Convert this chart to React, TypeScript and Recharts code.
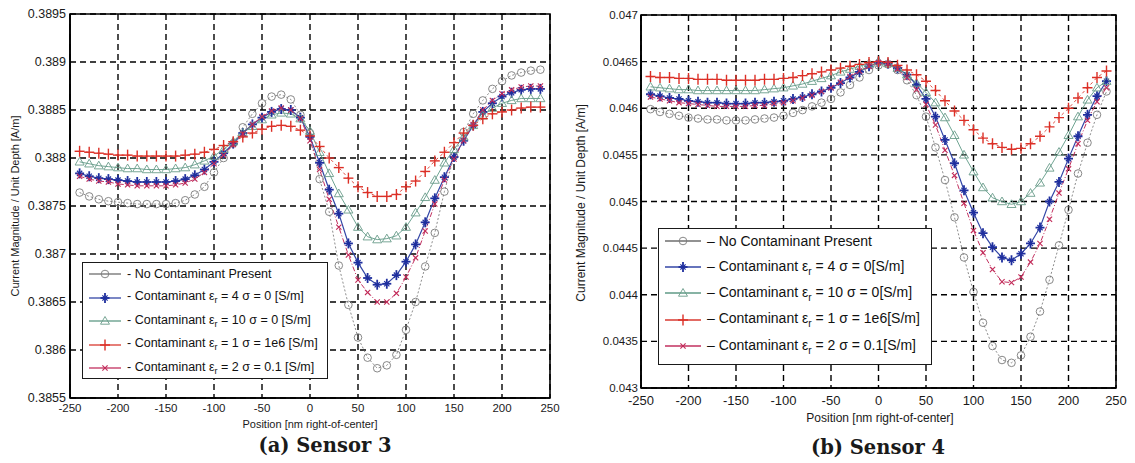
import React from 'react';
import { LineChart, Line, XAxis, YAxis, CartesianGrid, Legend, Label, ReferenceArea } from 'recharts';

// sample positions along the sensor, nm right-of-center
const POSITIONS = [
  -240, -230, -220, -210, -200, -190, -180, -170, -160, -150, -140, -130, -120, -110, -100, -90, -80,
  -70, -60, -50, -40, -30, -20, -10, 0, 10, 20, 30, 40, 50, 60, 70, 80, 90, 100, 110, 120, 130, 140,
  150, 160, 170, 180, 190, 200, 210, 220, 230, 240,
];

const X_TICKS = [-250, -200, -150, -100, -50, 0, 50, 100, 150, 200, 250];

// ---- Sensor 3 ----
const S3_Y_TICKS = [0.3855, 0.386, 0.3865, 0.387, 0.3875, 0.388, 0.3885, 0.389, 0.3895];

const S3_NONE = [
  0.38764, 0.3876, 0.38757, 0.38755, 0.38754, 0.38753, 0.38752, 0.38752, 0.38752, 0.38752, 0.38753,
  0.38756, 0.38762, 0.3877, 0.38785, 0.388, 0.38815, 0.38832, 0.38846, 0.38857, 0.38864, 0.38866,
  0.38861, 0.38845, 0.38826, 0.38778, 0.38744, 0.38688, 0.38647, 0.38613, 0.38592, 0.38581, 0.38584,
  0.38595, 0.38621, 0.3865, 0.38687, 0.38722, 0.38765, 0.38802, 0.38827, 0.38846, 0.3886, 0.38872,
  0.3888, 0.38886, 0.38889, 0.38891, 0.38892,
];
const S3_E4 = [
  0.38784, 0.38781, 0.38779, 0.38778, 0.38777, 0.38776, 0.38775, 0.38775, 0.38775, 0.38775, 0.38776,
  0.38778, 0.38782, 0.38788, 0.38796, 0.38805, 0.38815, 0.38826, 0.38835, 0.38842, 0.38848, 0.38851,
  0.3885, 0.38842, 0.38822, 0.38795, 0.38767, 0.38742, 0.38711, 0.38691, 0.38675, 0.38668, 0.38669,
  0.38678, 0.38692, 0.3871, 0.38733, 0.38758, 0.3878, 0.38801, 0.38818, 0.38834, 0.38848, 0.38857,
  0.38864, 0.38868, 0.38871, 0.38872, 0.38872,
];
const S3_E10 = [
  0.38796, 0.38794, 0.38792, 0.38791, 0.3879, 0.38789, 0.38789, 0.38788, 0.38788, 0.38788, 0.38789,
  0.3879, 0.38793, 0.38797, 0.38802, 0.38809, 0.38817, 0.38826, 0.38833, 0.3884, 0.38845, 0.38847,
  0.38846, 0.38841, 0.38828, 0.38806, 0.38784, 0.38763, 0.38746, 0.38728, 0.38718, 0.38715, 0.38716,
  0.38719, 0.38728, 0.38743, 0.38759, 0.38777, 0.38795, 0.38809, 0.38822, 0.38834, 0.38844, 0.38852,
  0.38857, 0.3886, 0.38862, 0.38862, 0.38862,
];
const S3_E1 = [
  0.38807, 0.38806, 0.38805, 0.38804, 0.38803, 0.38803, 0.38802, 0.38802, 0.38802, 0.38802, 0.38802,
  0.38803, 0.38804, 0.38806, 0.38809, 0.38813, 0.38817, 0.38822, 0.38826, 0.3883, 0.38833, 0.38834,
  0.38833, 0.38829, 0.38823, 0.38812, 0.388, 0.3879, 0.38779, 0.3877, 0.38764, 0.3876, 0.3876,
  0.38762, 0.3877, 0.38776, 0.38786, 0.38797, 0.38806, 0.38816, 0.38826, 0.38834, 0.38841, 0.38846,
  0.38848, 0.3885, 0.38852, 0.38853, 0.38853,
];
const S3_E2 = [
  0.38781, 0.38778, 0.38776, 0.38775, 0.38773, 0.38772, 0.38771, 0.38771, 0.38771, 0.38771, 0.38772,
  0.38774, 0.38778, 0.38785, 0.38794, 0.38803, 0.38814, 0.38825, 0.38835, 0.38843, 0.38849, 0.38852,
  0.3885, 0.38841, 0.38818, 0.38788, 0.38757, 0.38728, 0.38699, 0.38673, 0.3866, 0.3865, 0.3865,
  0.38659, 0.38676, 0.38696, 0.38724, 0.38752, 0.38777, 0.38799, 0.38818, 0.38835, 0.3885, 0.3886,
  0.38867, 0.38871, 0.38874, 0.38875, 0.38875,
];

// ---- Sensor 4 ----
const S4_Y_TICKS = [0.043, 0.0435, 0.044, 0.0445, 0.045, 0.0455, 0.046, 0.0465, 0.047];

const S4_NONE = [
  0.04599, 0.04596, 0.04594, 0.04592, 0.0459, 0.04589, 0.04588, 0.04588, 0.04587, 0.04587, 0.04587,
  0.04588, 0.04589, 0.0459, 0.04592, 0.04595, 0.04598, 0.04602, 0.04606, 0.0461, 0.04617, 0.04625,
  0.04633, 0.04641, 0.04646, 0.04647, 0.04641, 0.0463, 0.04614, 0.04591, 0.04558, 0.04523, 0.04483,
  0.0444, 0.04403, 0.0437, 0.04345, 0.0433, 0.04327, 0.04335, 0.04355, 0.04382, 0.04416, 0.04453,
  0.04491, 0.0453, 0.04563, 0.04593, 0.04618,
];
const S4_E4 = [
  0.04615, 0.04613, 0.04611, 0.0461, 0.04608, 0.04607, 0.04606, 0.04606, 0.04605, 0.04605, 0.04605,
  0.04606, 0.04606, 0.04607, 0.04608, 0.0461, 0.04612, 0.04615, 0.04618, 0.04622, 0.04627, 0.04633,
  0.04639, 0.04645, 0.04649, 0.04648, 0.04643, 0.04636, 0.04625, 0.0461, 0.04591, 0.04566, 0.04541,
  0.04512, 0.04488, 0.04466, 0.04451, 0.0444, 0.04437, 0.04444, 0.04455, 0.04472, 0.045, 0.04521,
  0.04546, 0.0457, 0.04593, 0.04613, 0.04629,
];
const S4_E10 = [
  0.04623, 0.04622, 0.04621, 0.0462, 0.0462, 0.04619, 0.04619, 0.04619, 0.04619, 0.04619, 0.04619,
  0.04619, 0.0462, 0.04621, 0.04622, 0.04624, 0.04626, 0.04629, 0.04632, 0.04635, 0.04639, 0.04642,
  0.04645, 0.04648, 0.0465, 0.04648, 0.04643, 0.04636, 0.04627, 0.04617, 0.04606, 0.0459, 0.04571,
  0.0455, 0.04532, 0.04515, 0.04504, 0.045, 0.04497, 0.045, 0.04509, 0.0452, 0.04536, 0.04553,
  0.04571, 0.04591, 0.04609, 0.04622, 0.04629,
];
const S4_E1 = [
  0.04634, 0.04633, 0.04633, 0.04632, 0.04632, 0.04631, 0.04631, 0.04631, 0.0463, 0.0463, 0.0463,
  0.0463, 0.04631, 0.04631, 0.04632, 0.04633, 0.04635, 0.04637, 0.04639, 0.04641, 0.04643, 0.04645,
  0.04647, 0.04649, 0.0465, 0.04649, 0.04646, 0.04641, 0.04636, 0.04629, 0.04619, 0.04608, 0.04597,
  0.04587, 0.04577, 0.04568, 0.04562, 0.04558, 0.04556, 0.04557, 0.04562, 0.0457, 0.0458, 0.0459,
  0.046, 0.04611, 0.04622, 0.04633, 0.0464,
];
const S4_E2 = [
  0.04612, 0.0461, 0.04608, 0.04606, 0.04605, 0.04604, 0.04603, 0.04602, 0.04602, 0.04602, 0.04602,
  0.04603, 0.04603, 0.04605, 0.04606, 0.04608, 0.04611, 0.04614, 0.04618, 0.04622, 0.04628, 0.04634,
  0.0464, 0.04645, 0.04649, 0.04648, 0.04642, 0.04633, 0.0462, 0.04604, 0.04582, 0.04555, 0.04528,
  0.04498, 0.04469, 0.04445, 0.04427, 0.04414, 0.04413, 0.04419, 0.04435, 0.04455, 0.04481, 0.04509,
  0.04535, 0.04562, 0.04587, 0.04607, 0.04622,
];

// legend wording: epsilon_r and sigma per contaminant case
const S3_LEGEND = [
  { eps: '', sigma: '' },
  { eps: '4', sigma: '0 [S/m]' },
  { eps: '10', sigma: '0 [S/m]' },
  { eps: '1', sigma: '1e6 [S/m]' },
  { eps: '2', sigma: '0.1 [S/m]' },
];
const S4_LEGEND = [
  { eps: '', sigma: '' },
  { eps: '4', sigma: '0[S/m]' },
  { eps: '10', sigma: '0[S/m]' },
  { eps: '1', sigma: '1e6[S/m]' },
  { eps: '2', sigma: '0.1[S/m]' },
];

type MarkerKind = 'circle' | 'star' | 'triangle' | 'plus' | 'cross';

const STYLES: { key: string; marker: MarkerKind; stroke: string; mark: string; width: number; dash?: string }[] = [
  { key: 'none', marker: 'circle', stroke: '#6e6e6e', mark: '#7a7a7a', width: 0.8, dash: '2 2' },
  { key: 'e4', marker: 'star', stroke: '#3346a6', mark: '#1f2f9e', width: 1.2 },
  { key: 'e10', marker: 'triangle', stroke: '#5f9a86', mark: '#6a9c8a', width: 0.9 },
  { key: 'e1', marker: 'plus', stroke: '#d93a30', mark: '#dc2f26', width: 0.9, dash: '3 3' },
  { key: 'e2', marker: 'cross', stroke: '#c2305f', mark: '#c22a58', width: 1, dash: '5 2 1 2' },
];

function Marker({ kind, cx, cy, color }: { kind: MarkerKind; cx: number; cy: number; color: string }) {
  if (cx == null || cy == null) return null;
  switch (kind) {
    case 'circle':
      return <circle cx={cx} cy={cy} r={3.8} fill="none" stroke={color} strokeWidth={0.9} />;
    case 'star':
      return (
        <g stroke={color} strokeWidth={1.8}>
          <line x1={cx - 4.5} y1={cy} x2={cx + 4.5} y2={cy} />
          <line x1={cx} y1={cy - 5} x2={cx} y2={cy + 5} />
          <line x1={cx - 2.6} y1={cy - 2.6} x2={cx + 2.6} y2={cy + 2.6} strokeWidth={1.2} />
          <line x1={cx - 2.6} y1={cy + 2.6} x2={cx + 2.6} y2={cy - 2.6} strokeWidth={1.2} />
        </g>
      );
    case 'triangle':
      return (
        <polygon
          points={`${cx},${cy - 4.5} ${cx - 4.5},${cy + 3.2} ${cx + 4.5},${cy + 3.2}`}
          fill="none"
          stroke={color}
          strokeWidth={0.9}
        />
      );
    case 'plus':
      return (
        <g stroke={color} strokeWidth={1.4}>
          <line x1={cx - 5} y1={cy} x2={cx + 5} y2={cy} />
          <line x1={cx} y1={cy - 5.5} x2={cx} y2={cy + 5.5} />
        </g>
      );
    case 'cross':
      return (
        <g stroke={color} strokeWidth={1.1}>
          <line x1={cx - 2.6} y1={cy - 2.6} x2={cx + 2.6} y2={cy + 2.6} />
          <line x1={cx - 2.6} y1={cy + 2.6} x2={cx + 2.6} y2={cy - 2.6} />
        </g>
      );
  }
}

function LegendBox({
  rows,
  dash,
  fontSize,
  rowHeight,
  firstRow,
  width,
  height,
  sampleW,
}: {
  rows: { eps: string; sigma: string }[];
  dash: string;
  fontSize: number;
  rowHeight: number;
  firstRow: number;
  width: number;
  height: number;
  sampleW: number;
}) {
  return (
    <div
      style={{
        position: 'relative',
        width,
        height,
        boxSizing: 'border-box',
        border: '1.6px solid #1a1a1a',
        background: '#fff',
        fontFamily: '"Liberation Sans", Arial, sans-serif',
        fontSize,
        color: '#111',
      }}
    >
      {rows.map((r, i) => {
        const s = STYLES[i];
        return (
          <div
            key={s.key}
            style={{
              position: 'absolute',
              left: 5,
              top: firstRow + i * rowHeight - 10,
              height: 20,
              display: 'flex',
              alignItems: 'center',
              whiteSpace: 'nowrap',
            }}
          >
            <svg width={sampleW} height={20} style={{ display: 'block' }}>
              <line x1={1} y1={10} x2={sampleW - 1} y2={10} stroke={s.stroke} strokeWidth={1.3} />
              <Marker kind={s.marker} cx={sampleW / 2} cy={10} color={s.mark} />
            </svg>
            <span style={{ marginLeft: 5 }}>
              {dash}{' '}
              {r.eps ? (
                <>
                  Contaminant ε<sub style={{ fontSize: '0.72em', verticalAlign: '-0.35em' }}>r</sub> = {r.eps} σ ={' '}
                  {r.sigma}
                </>
              ) : (
                'No Contaminant Present'
              )}
            </span>
          </div>
        );
      })}
    </div>
  );
}

type PanelProps = {
  left: number;
  width: number;
  margin: { top: number; right: number; left: number; bottom: number };
  yWidth: number;
  yDomain: [number, number];
  yTicks: number[];
  series: number[][];
  yTickSize: number;
  xTickSize: number;
  xTickMargin: number;
  yTickMargin: number;
  titleSize: number;
  yTitle: { x: number; y: number };
  xTitle: { x: number; y: number };
  caption: { text: string; x: number; y: number };
  legend: { left: number; top: number; width: number; height: number; rows: { eps: string; sigma: string }[]; dash: string; fontSize: number; rowHeight: number; firstRow: number; sampleW: number };
};

function SensorPanel(p: PanelProps) {
  const data = POSITIONS.map((x, i) => {
    const row: Record<string, number> = { x };
    STYLES.forEach((s, k) => {
      row[s.key] = p.series[k][i];
    });
    return row;
  });
  const font = '"Liberation Sans", Arial, sans-serif';
  return (
    <div style={{ position: 'absolute', left: p.left, top: 0 }}>
      <LineChart width={p.width} height={463} data={data} margin={p.margin}>
        <CartesianGrid stroke="#000" strokeWidth={1.4} strokeDasharray="6 4" />
        <XAxis
          dataKey="x"
          type="number"
          domain={[-250, 250]}
          ticks={X_TICKS}
          interval={0}
          height={30}
          tickLine={false}
          tickMargin={p.xTickMargin}
          axisLine={{ stroke: '#000', strokeWidth: 1.6 }}
          tick={{ fill: '#1a1a1a', fontSize: p.xTickSize, fontFamily: font }}
        >
          <Label
            content={() => (
              <g>
                <text x={p.xTitle.x} y={p.xTitle.y} textAnchor="middle" dominantBaseline="central" fontSize={p.titleSize} fontFamily={font} fill="#1a1a1a">
                  Position [nm right-of-center]
                </text>
                <text
                  x={p.caption.x}
                  y={p.caption.y}
                  textAnchor="middle"
                  dominantBaseline="central"
                  fontSize={19.5}
                  fontWeight="bold"
                  fontFamily='"DejaVu Serif", serif'
                  fill="#1a1a1a"
                >
                  {p.caption.text}
                </text>
              </g>
            )}
          />
        </XAxis>
        <YAxis
          type="number"
          domain={p.yDomain}
          ticks={p.yTicks}
          interval={0}
          allowDataOverflow
          width={p.yWidth}
          tickLine={false}
          tickMargin={p.yTickMargin}
          axisLine={{ stroke: '#000', strokeWidth: 1.6 }}
          tick={{ fill: '#1a1a1a', fontSize: p.yTickSize, fontFamily: font }}
        >
          <Label
            content={() => (
              <text
                x={p.yTitle.x}
                y={p.yTitle.y}
                textAnchor="middle"
                dominantBaseline="central"
                transform={`rotate(-90, ${p.yTitle.x}, ${p.yTitle.y})`}
                fontSize={p.titleSize}
                fontFamily={font}
                fill="#1a1a1a"
              >
                Current Magnitude / Unit Depth [A/m]
              </text>
            )}
          />
        </YAxis>
        <ReferenceArea
          x1={-250}
          x2={250}
          y1={p.yDomain[0]}
          y2={p.yDomain[1]}
          fill="none"
          stroke="#000"
          strokeWidth={1.6}
          ifOverflow="visible"
        />
        {STYLES.map((s) => (
          <Line
            key={s.key}
            type="linear"
            dataKey={s.key}
            stroke={s.stroke}
            strokeWidth={s.width}
            strokeDasharray={s.dash}
            isAnimationActive={false}
            dot={(d: any) => <Marker key={`${s.key}-${d.index}`} kind={s.marker} cx={d.cx} cy={d.cy} color={s.mark} />}
            activeDot={false}
          />
        ))}
        <Legend
          layout="vertical"
          align="center"
          verticalAlign="middle"
          wrapperStyle={{ left: p.legend.left, top: p.legend.top, width: p.legend.width, height: p.legend.height }}
          content={() => (
            <LegendBox
              rows={p.legend.rows}
              dash={p.legend.dash}
              fontSize={p.legend.fontSize}
              rowHeight={p.legend.rowHeight}
              firstRow={p.legend.firstRow}
              width={p.legend.width}
              height={p.legend.height}
              sampleW={p.legend.sampleW}
            />
          )}
        />
      </LineChart>
    </div>
  );
}

export default function App() {
  return (
    <div style={{ position: 'absolute', left: 0, top: 0, width: 1135, height: 463, background: '#fff', overflow: 'hidden' }}>
      <SensorPanel
        left={0}
        width={560}
        margin={{ top: 14, right: 10, left: 10, bottom: 35 }}
        yWidth={60}
        yDomain={[0.3855, 0.3895]}
        yTicks={S3_Y_TICKS}
        series={[S3_NONE, S3_E4, S3_E10, S3_E1, S3_E2]}
        yTickSize={12.5}
        xTickSize={11.5}
        xTickMargin={0}
        yTickMargin={-2}
        titleSize={11}
        yTitle={{ x: 15, y: 206 }}
        xTitle={{ x: 310, y: 424 }}
        caption={{ text: '(a) Sensor 3', x: 325, y: 445 }}
        legend={{ left: 82, top: 262, width: 246, height: 117, rows: S3_LEGEND, dash: '-', fontSize: 12.5, rowHeight: 23.5, firstRow: 11, sampleW: 34 }}
      />
      <SensorPanel
        left={570}
        width={565}
        margin={{ top: 15, right: 19, left: 10, bottom: 45 }}
        yWidth={61}
        yDomain={[0.043, 0.047]}
        yTicks={S4_Y_TICKS}
        series={[S4_NONE, S4_E4, S4_E10, S4_E1, S4_E2]}
        yTickSize={11.5}
        xTickSize={13}
        xTickMargin={2}
        yTickMargin={-3}
        titleSize={12}
        yTitle={{ x: 11, y: 203 }}
        xTitle={{ x: 310, y: 418 }}
        caption={{ text: '(b) Sensor 4', x: 308, y: 447 }}
        legend={{ left: 88, top: 228, width: 274, height: 137, rows: S4_LEGEND, dash: '–', fontSize: 14, rowHeight: 26.2, firstRow: 12, sampleW: 38 }}
      />
    </div>
  );
}
